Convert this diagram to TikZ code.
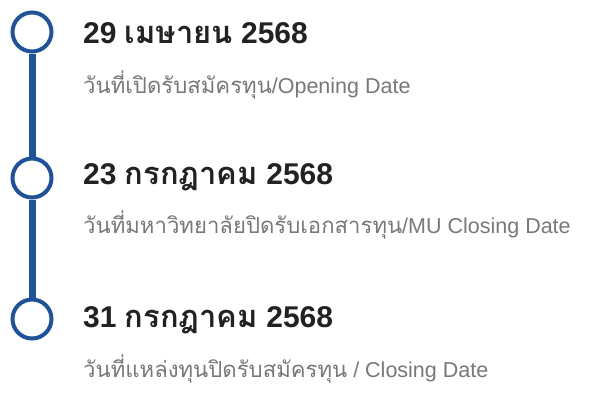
\documentclass[tikz,border=0pt]{standalone}
\usepackage{fontspec}
\setmainfont{Liberation Sans}
\newfontfamily\thaifont[Script=Thai,Scale=1.03]{Loma}
\usetikzlibrary{positioning}
\definecolor{tlblue}{RGB}{31,82,150}
\definecolor{tltitle}{RGB}{34,34,34}
\definecolor{tlgrey}{RGB}{120,120,120}
\newcommand{\thtxt}[1]{{\thaifont #1}}
\tikzset{dot/.style = {draw=tlblue, line width=4pt, fill=white, circle, inner sep=0, minimum size=39pt}}
\tikzset{stem/.style = {draw=tlblue, line width=7pt}}
\tikzset{datetxt/.style = {anchor=base west, inner sep=0, text=tltitle, font=\fontsize{30}{32}\selectfont\bfseries}}
\tikzset{subtxt/.style = {anchor=base west, inner sep=0, text=tlgrey, font=\fontsize{21.5}{24}\selectfont}}

\begin{document}
\begin{tikzpicture}[x=1pt, y=-1pt]
      \useasboundingbox (0, 0) rectangle (589, 400);

      \node (c1) at (32, 32) [dot] {};
      \node (c2) at (32, 178) [dot] {};
      \node (c3) at (32, 319) [dot] {};

      \draw [stem] (c1) -- (c2);
      \draw [stem] (c2) -- (c3);

      \node (t1) at (83, 43) [datetxt] {29 \thtxt{เมษายน} 2568};
      \node (s1) at (83, 93) [subtxt] {\thtxt{วันที่เปิดรับสมัครทุน}/Opening Date};

      \node (t2) at (83, 184) [datetxt] {23 \thtxt{กรกฎาคม} 2568};
      \node (s2) at (83, 233) [subtxt] {\thtxt{วันที่มหาวิทยาลัยปิดรับเอกสารทุน}/MU Closing Date};

      \node (t3) at (83, 327) [datetxt] {31 \thtxt{กรกฎาคม} 2568};
      \node (s3) at (83, 377) [subtxt] {\thtxt{วันที่แหล่งทุนปิดรับสมัครทุน} / Closing Date};
    \end{tikzpicture}
\end{document}
